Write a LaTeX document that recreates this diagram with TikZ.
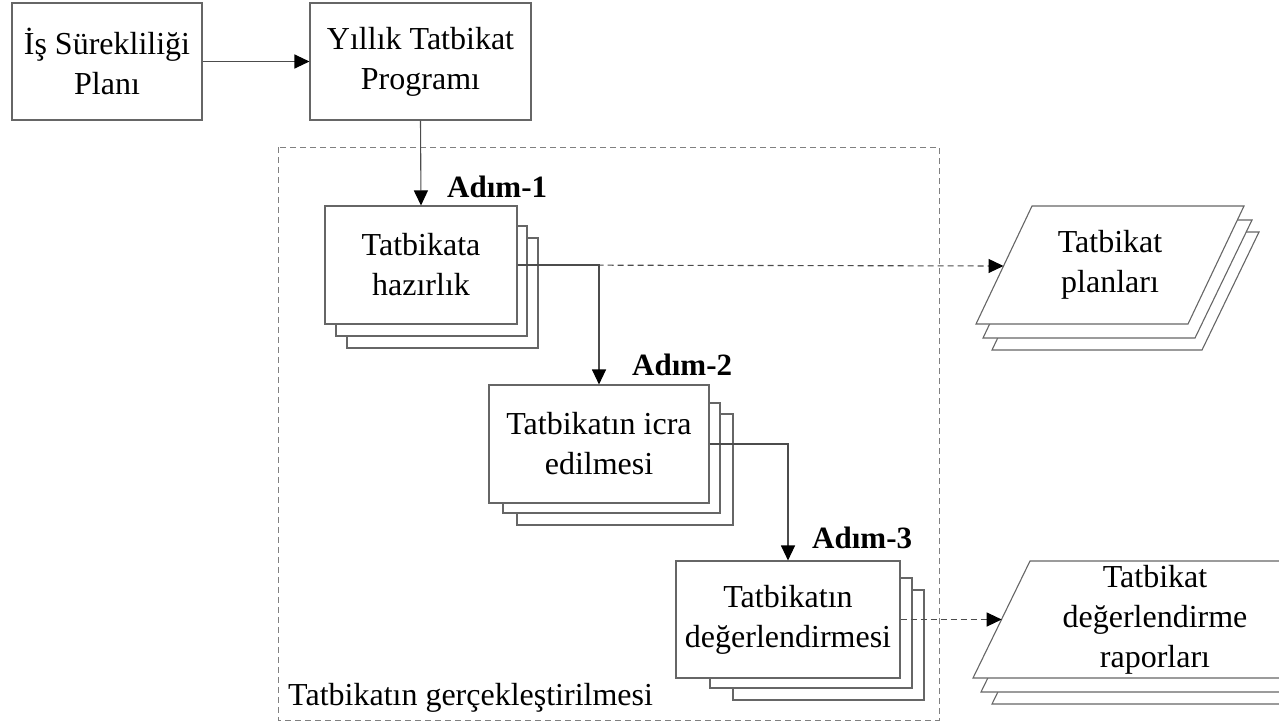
\documentclass[tikz,border=0pt]{standalone}
\usepackage{fontspec}
\setmainfont{Liberation Serif}
\usetikzlibrary{arrows.meta}
\begin{document}
\begin{tikzpicture}[x=1pt,y=-1pt,
  txt/.style={font=\fontsize{32}{40}\selectfont, align=center},
  box/.style={draw=black!60, line width=1.1pt, fill=white, inner sep=0pt, txt},
  shadowbox/.style={draw=black!60, line width=1.1pt, fill=white},
  conn/.style={draw=black!70, line width=1.1pt, -{Triangle[length=15pt,width=14pt,black]}},
  dconn/.style={conn, dash pattern=on 6pt off 4pt},
  frame/.style={draw=black!50, line width=1pt, dash pattern=on 6pt off 4pt},
  steplabel/.style={font=\fontsize{31}{36}\selectfont\bfseries, anchor=base west, inner sep=0pt}
]
\useasboundingbox (0,0) rectangle (1279,723);
\clip (0,0) rectangle (1279,723);

% container
\draw[frame] (278,147) rectangle (939,720);
\node[txt, anchor=base west, inner sep=0pt] (frlabel) at (288,705) {Tatbikatın gerçekleştirilmesi};

% top boxes
\node[box, minimum width=190pt, minimum height=117pt] (isp) at (107,61.5) {İş Sürekliliği\\Planı};
\node[box, minimum width=221pt, minimum height=117pt] (ytp) at (420.5,61.5) {Yıllık Tatbikat\\Programı};

% step 1
\draw[shadowbox] (347,238) rectangle (538,348);
\draw[shadowbox] (336,226) rectangle (527,336);
\node[box, minimum width=192pt, minimum height=118pt] (s1) at (421,265) {Tatbikata\\hazırlık};
\node[steplabel] (a1) at (447,197) {Adım-1};

% step 2
\draw[shadowbox] (517,414) rectangle (733,525);
\draw[shadowbox] (503,403) rectangle (720,513);
\node[box, minimum width=220pt, minimum height=118pt] (s2) at (599,444) {Tatbikatın icra\\edilmesi};
\node[steplabel] (a2) at (632,375) {Adım-2};

% step 3
\draw[shadowbox] (733,590) rectangle (924,700);
\draw[shadowbox] (710,578) rectangle (912,688);
\node[box, minimum width=224pt, minimum height=117pt] (s3) at (788,619.5) {Tatbikatın\\değerlendirmesi};
\node[steplabel] (a3) at (812,548) {Adım-3};

% output 1: Tatbikat planları
\draw[shadowbox] (992,350) -- (1048,232) -- (1259,232) -- (1202,350) -- cycle;
\draw[shadowbox] (983,338) -- (1039,220) -- (1252,220) -- (1195,338) -- cycle;
\draw[shadowbox] (976,324) -- (1032,206) -- (1244,206) -- (1188,324) -- cycle;
\node[txt, inner sep=0pt] (tp) at (1110,265) {Tatbikat\\planları};
\coordinate (tpin) at (1003.5,266);

% output 2: Tatbikat değerlendirme raporları
\draw[shadowbox] (992,704) -- (1049,587) -- (1360,587) -- (1303,704) -- cycle;
\draw[shadowbox] (981,692) -- (1038,575) -- (1350,575) -- (1293,692) -- cycle;
\draw[shadowbox] (973,678) -- (1030,561) -- (1340,561) -- (1283,678) -- cycle;
\node[txt, inner sep=0pt] (tr) at (1155,619.5) {Tatbikat\\değerlendirme\\raporları};
\coordinate (trin) at (1001.7,619.5);

% connectors
\draw[conn] (isp.east) -- (ytp.west);
\draw[conn] (ytp.south) -- (s1.north);
\draw[conn] (s1.east) -| (s2.north);
\draw[dconn] (s1.east) -- (tpin);
\draw[conn] (s2.east) -| (s3.north);
\draw[dconn] (s3.east) -- (trin);
\end{tikzpicture}
\end{document}
